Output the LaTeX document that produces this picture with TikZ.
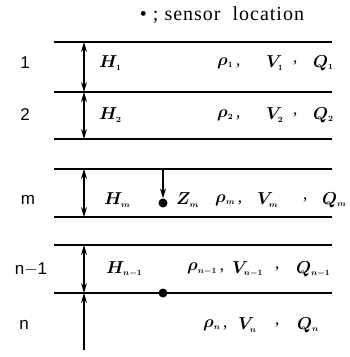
\documentclass[tikz,border=0pt]{standalone}
\usepackage{fontspec}
\setmainfont{Liberation Serif}
\newfontfamily\layerfont{Liberation Sans}
\usetikzlibrary{arrows.meta}

\tikzset{
  interface/.style={line width=1.4pt},
  thickness/.style={line width=1.2pt},
  layer/.style={font=\layerfont\fontsize{17}{20}\selectfont},
  prop/.style={anchor=west, inner sep=0pt, font=\fontsize{17}{20}\selectfont\boldmath},
  sensor/.style={circle, fill, inner sep=0pt, minimum size=9pt}
}
\newcommand{\sub}[1]{_{\scriptscriptstyle #1}}

\begin{document}
\begin{tikzpicture}[x=1pt, y=-1pt, >={Stealth[length=10pt, width=6pt]}]
      \useasboundingbox (0,0) rectangle (349,357);
      \node[font=\addfontfeature{LetterSpace=5}\fontsize{20}{24}\selectfont] (key) at (222,15) {\textbullet\ ; sensor\ \ location};
      % interfaces between the layers
      \foreach \y/\name in {42/i0, 92/i1, 139/i2, 169/i3, 217/i4, 245/i5, 293/i6} {
        \draw[interface] (54,\y) -- (332,\y);
        \coordinate (\name) at (84,\y);
      }
      \coordinate (bot) at (84,350);
      % layer numbers
      \node[layer] (l1) at (25,63) {1};
      \node[layer] (l2) at (25,115) {2};
      \node[layer] (lm) at (28,200) {m};
      \node[layer] (ln1) at (31,269) {n$-$1};
      \node[layer] (ln) at (24,325) {n};
      % thicknesses
      \draw[thickness, <->] (i0) -- (i1);
      \draw[thickness, <->] (i1) -- (i2);
      \draw[thickness, <->] (i3) -- (i4);
      \draw[thickness, <->] (i5) -- (i6);
      \draw[thickness, ->] (bot) -- (i6);
      \node[prop] (H1) at (99,63) {$H\sub{1}$};
      \node[prop] (H2) at (99,115) {$H\sub{2}$};
      \node[prop] (Hm) at (104,200) {$H\sub{m}$};
      \node[prop] (Hn1) at (106,269) {$H\sub{n-1}$};
      % densities, velocities, flow rates
      \foreach \y/\k/\s/\r/\v/\c/\q in {63/1/1/217/266/293/313, 115/2/2/217/266/293/313,
          200/m/m/215/257/303/322, 269/n1/{n-1}/187/232/275/296, 325/n/n/203/238/275/297} {
        \node[prop] (rho\k) at (\r,\y) {$\rho\sub{\s}$\,,};
        \node[prop] (V\k) at (\v,\y) {$V\sub{\s}$};
        \node[prop] (c\k) at (\c,\y) {,};
        \node[prop] (Q\k) at (\q,\y) {$Q\sub{\s}$};
      }
      % sensors
      \coordinate (zm) at (163,169);
      \node[sensor] (s1) at (163,203) {};
      \node[sensor] (s2) at (163,293) {};
      \draw[thickness, ->] (zm) -- (s1);
      \node[prop] (Zm) at (176,200) {$Z\sub{m}$};
    \end{tikzpicture}
\end{document}
